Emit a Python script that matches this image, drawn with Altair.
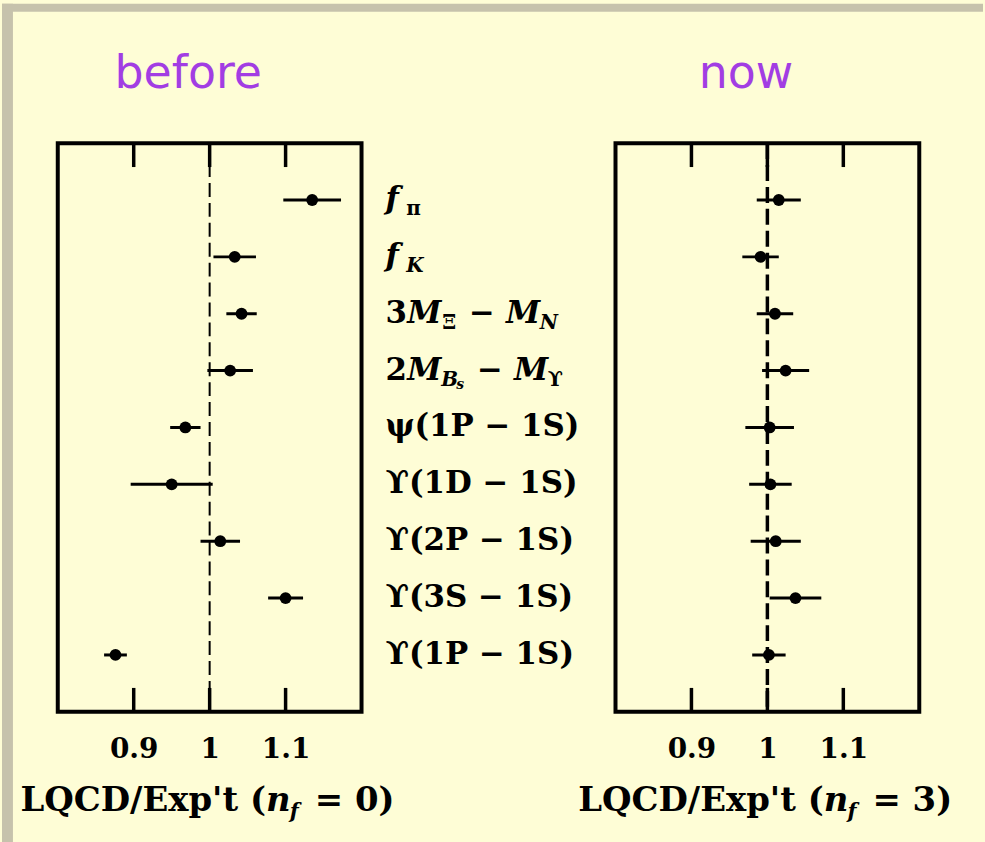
import altair as alt
import pandas as pd

# ---------------------------------------------------------------
# Data: lattice QCD / experiment ratios, quenched (n_f = 0) vs n_f = 3
# ---------------------------------------------------------------
positions = [1, 2, 3, 4, 5, 6, 7, 8, 9]
quantities = ["f_pi", "f_K", "3M_Xi - M_N", "2M_Bs - M_Upsilon", "psi(1P-1S)",
              "Upsilon(1D-1S)", "Upsilon(2P-1S)", "Upsilon(3S-1S)", "Upsilon(1P-1S)"]

before_val = [1.135, 1.033, 1.042, 1.027, 0.968, 0.950, 1.014, 1.100, 0.876]
before_err = [0.038, 0.028, 0.020, 0.030, 0.020, 0.054, 0.026, 0.023, 0.015]

now_val = [1.015, 0.991, 1.010, 1.024, 1.003, 1.004, 1.011, 1.037, 1.002]
now_err = [0.029, 0.024, 0.024, 0.031, 0.032, 0.028, 0.033, 0.034, 0.022]

tick_values = [0.9, 1.0, 1.1]
x_domain = [0.8, 1.2]
ref_value = [1.0]

# Row labels, split into pieces so that subscripts can be set smaller
seg_row = [1, 1,
           2, 2,
           3, 3, 3, 3, 3, 3,
           4, 4, 4, 4, 4, 4, 4,
           5, 6, 7, 8, 9]
seg_text = ["f", "π",
            "f", "K",
            "3", "M", "Ξ", "−", "M", "N",
            "2", "M", "B", "s", "−", "M", "ϒ",
            "ψ(1P − 1S)", "ϒ(1D − 1S)", "ϒ(2P − 1S)", "ϒ(3S − 1S)", "ϒ(1P − 1S)"]
seg_kind = ["it", "sub",
            "it", "subit",
            "rm", "it", "sub", "rm", "it", "subit",
            "rm", "it", "subit", "subsub", "rm", "it", "sub",
            "rm", "rm", "rm", "rm", "rm"]

# ---------------------------------------------------------------
# Layout / style
# ---------------------------------------------------------------
W, H = 305, 571
MID_W = 255
seg_offset = [0, 21,
              0, 21,
              0, 22, 57, 84, 121, 155,
              0, 22, 56, 71, 92, 129, 163,
              0, 0, 0, 0, 0]

BG = "#FEFDD6"
FRAME_GREY = "#C6C2AC"
PURPLE = "#A23DE3"
SERIF = "DejaVu Serif"

x_scale = alt.Scale(domain=x_domain, nice=False, zero=False)
y_scale = alt.Scale(domain=[0, 10], reverse=True, nice=False, zero=False)


def x_enc(field):
    return alt.X(f"{field}:Q", scale=x_scale, title=None,
                 axis=alt.Axis(values=tick_values, format="~g", grid=False,
                               domain=False, ticks=False, tickSize=0,
                               labelFont=SERIF, labelFontSize=28,
                               labelFontWeight="bold", labelColor="black",
                               labelBaseline="middle", labelPadding=38))


def panel(vals, errs, heading, nf, dash_width, dash, strips=False):
    df = pd.DataFrame({
        "pos": positions,
        "name": quantities,
        "val": vals,
        "lo": [v - e for v, e in zip(vals, errs)],
        "hi": [v + e for v, e in zip(vals, errs)],
    })
    ticks = pd.DataFrame({"val": tick_values})
    ref = pd.DataFrame({"val": ref_value})
    one = pd.DataFrame({"k": [0]})
    y = alt.Y("pos:Q", scale=y_scale, axis=None)

    layers = []
    if strips:
        layers.append(alt.Chart(one).mark_rect(color=FRAME_GREY).encode(
            x=alt.value(-56), x2=alt.value(-45), y=alt.value(-140), y2=alt.value(702)))
        layers.append(alt.Chart(one).mark_rect(color=FRAME_GREY).encode(
            x=alt.value(-56), x2=alt.value(929), y=alt.value(-140), y2=alt.value(-132)))

    dashed = alt.Chart(ref).mark_rule(color="black", strokeWidth=dash_width,
                                      strokeDash=dash).encode(
        x=x_enc("val"), y=alt.value(0), y2=alt.value(H))
    top_ticks = alt.Chart(ticks).mark_rule(color="black", strokeWidth=3.5).encode(
        x=x_enc("val"), y=alt.value(0), y2=alt.value(24))
    bot_ticks = alt.Chart(ticks).mark_rule(color="black", strokeWidth=3.5).encode(
        x=x_enc("val"), y=alt.value(H - 24), y2=alt.value(H))
    bars = alt.Chart(df).mark_rule(color="black", strokeWidth=3).encode(
        x=x_enc("lo"), x2="hi:Q", y=y)
    dots = alt.Chart(df).mark_circle(color="black", opacity=1, size=140).encode(
        x=x_enc("val"), y=y)

    head = alt.Chart(one).mark_text(font="DejaVu Sans", fontSize=46, color=PURPLE,
                                    align="center", baseline="alphabetic").encode(
        x=alt.value(131), y=alt.value(-55), text=alt.value(heading))

    # axis title: LQCD/Exp't (n_f = ...)
    t_main = alt.Chart(one).mark_text(font=SERIF, fontSize=34, fontWeight="bold",
                                      align="right", baseline="alphabetic").encode(
        x=alt.value(209), y=alt.value(H + 100), text=alt.value("LQCD/Exp't ("))
    t_n = alt.Chart(one).mark_text(font=SERIF, fontSize=34, fontWeight="bold",
                                   fontStyle="italic", align="left",
                                   baseline="alphabetic").encode(
        x=alt.value(209), y=alt.value(H + 100), text=alt.value("n"))
    t_sub = alt.Chart(one).mark_text(font=SERIF, fontSize=21, fontWeight="bold",
                                     fontStyle="italic", align="left",
                                     baseline="alphabetic").encode(
        x=alt.value(233), y=alt.value(H + 107), text=alt.value("f"))
    t_rest = alt.Chart(one).mark_text(font=SERIF, fontSize=34, fontWeight="bold",
                                      align="left", baseline="alphabetic").encode(
        x=alt.value(258), y=alt.value(H + 100), text=alt.value(f"= {nf})"))

    layers += [dashed, top_ticks, bot_ticks, bars, dots, head, t_main, t_n, t_sub, t_rest]
    return alt.layer(*layers).properties(width=W, height=H)


left = panel(before_val, before_err, "before", 0, 2, [14, 6], strips=True)
right = panel(now_val, now_err, "now", 3, 3.5, [16, 6])

# row labels between the two panels
seg = pd.DataFrame({"pos": seg_row, "text": seg_text, "kind": seg_kind, "off": seg_offset})
lab_x = alt.X("off:Q", scale=alt.Scale(domain=[-24, MID_W - 24], nice=False, zero=False), axis=None)
lab_y = alt.Y("pos:Q", scale=y_scale, axis=None)

kind_style = {
    "rm": dict(fontSize=31, fontStyle="normal", dy=0),
    "it": dict(fontSize=31, fontStyle="italic", dy=0),
    "sub": dict(fontSize=20, fontStyle="normal", dy=9),
    "subit": dict(fontSize=20, fontStyle="italic", dy=9),
    "subsub": dict(fontSize=14, fontStyle="italic", dy=14),
}
label_layers = []
for kind, st in kind_style.items():
    label_layers.append(
        alt.Chart(seg).transform_filter(alt.datum.kind == kind).mark_text(
            font=SERIF, fontWeight="bold", color="black", align="left",
            baseline="middle", fontSize=st["fontSize"], fontStyle=st["fontStyle"],
            dy=st["dy"]).encode(x=lab_x, y=lab_y, text="text:N"))

mid = alt.layer(*label_layers).properties(
    width=MID_W, height=H, view=alt.ViewBackground(stroke="transparent"))

chart = alt.hconcat(left, mid, right, spacing=0, bounds="flush").configure_view(
    stroke="black", strokeWidth=4).properties(background=BG, padding=0)

chart.save("out.html", embed_options={"renderer": "svg", "actions": False})
